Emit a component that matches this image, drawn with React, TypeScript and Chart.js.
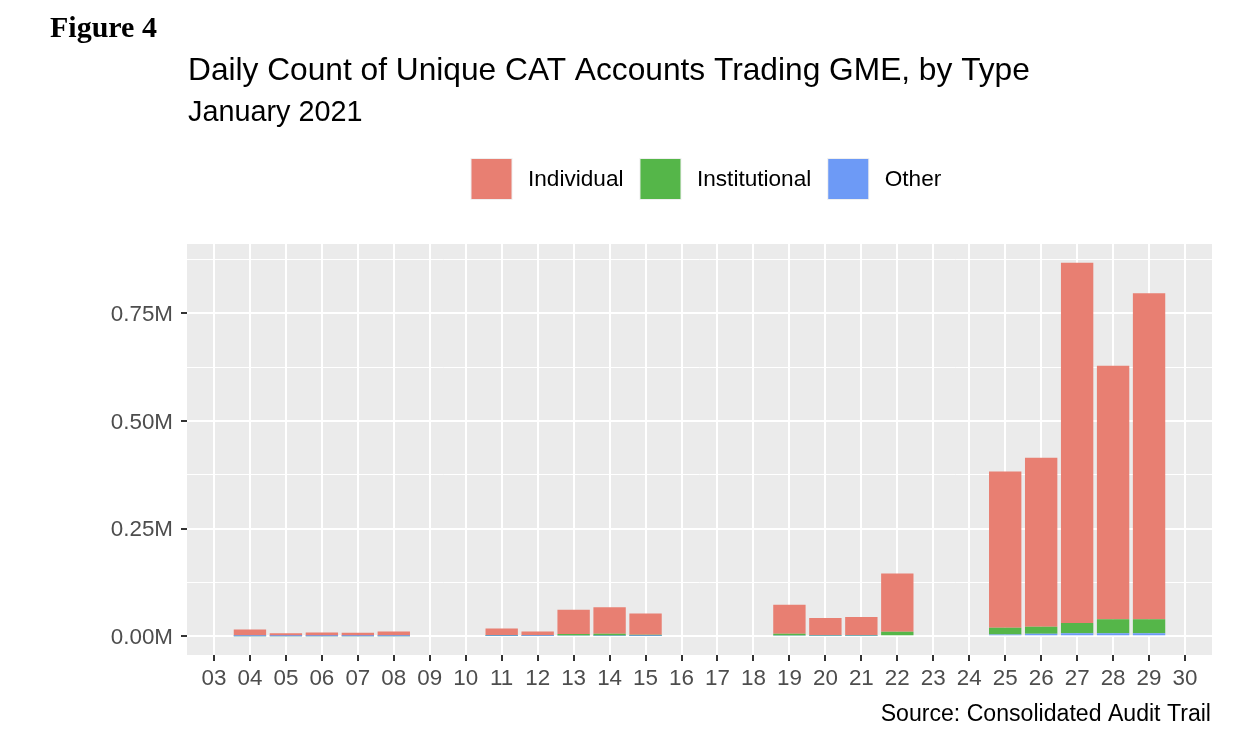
import React, { useEffect, useRef } from 'react';
import { Chart, registerables } from 'chart.js';

Chart.register(...registerables);

// Trading days in January 2021
const days = [4, 5, 6, 7, 8, 11, 12, 13, 14, 15, 19, 20, 21, 22, 25, 26, 27, 28, 29];
// Daily unique CAT accounts by type
const individual = [14300, 6100, 7600, 7500, 9800, 14700, 9300, 56500, 61500, 49300, 67700, 39300, 41800, 135300, 363000, 392200, 837000, 589200, 757500];
const institutional = [1000, 700, 800, 800, 900, 2500, 1200, 3500, 4500, 2500, 4000, 1800, 2000, 8000, 15500, 16500, 24000, 32500, 32500];
const other = [300, 200, 200, 200, 300, 800, 500, 2000, 1500, 1000, 1800, 1200, 1200, 2500, 4500, 6000, 7000, 7000, 7000];

const seriesNames = ['Individual', 'Institutional', 'Other'];
const seriesColors = ['#E87F72', '#55B649', '#6D9AF6'];

const figureLabel = 'Figure 4';
const titleText = 'Daily Count of Unique CAT Accounts Trading GME, by Type';
const subtitleText = 'January 2021';
const captionText = 'Source: Consolidated Audit Trail';

const FONT = '"Liberation Sans", Arial, Helvetica, sans-serif';
const MILLION = 1e6;
const MAJOR_STEP = 0.25; // in millions
const MINOR_STEP = 0.125;

const isMajor = (v: number) => {
  const r = v / MAJOR_STEP;
  return Math.abs(r - Math.round(r)) < 1e-6;
};

const decorPlugin = {
  id: 'decor',
  beforeDraw(chart: any) {
    const { ctx, chartArea: a } = chart;
    ctx.save();
    ctx.fillStyle = '#EBEBEB';
    ctx.fillRect(a.left, a.top, a.right - a.left, a.bottom - a.top);
    ctx.restore();
  },
  afterDraw(chart: any) {
    const { ctx, chartArea: a } = chart;
    ctx.save();
    ctx.fillStyle = '#000000';
    ctx.textBaseline = 'alphabetic';
    ctx.textAlign = 'left';
    ctx.font = 'bold 30px "Liberation Serif", "Times New Roman", serif';
    ctx.fillText(figureLabel, 50, 37);
    ctx.font = `31.7px ${FONT}`;
    ctx.fillText(titleText, a.left + 1, 79.5);
    ctx.font = `28.8px ${FONT}`;
    ctx.fillText(subtitleText, a.left + 1, 120.5);

    // legend
    ctx.font = `22.6px ${FONT}`;
    const key = 42;
    const gapKeyText = 15.5;
    const gapItem = 16;
    let x = 470.5;
    const keyTop = 158;
    seriesNames.forEach((name, i) => {
      const w = ctx.measureText(name).width;
      ctx.fillStyle = '#EFEFEF';
      ctx.fillRect(x, keyTop, key, key);
      ctx.fillStyle = seriesColors[i];
      ctx.fillRect(x + 1, keyTop + 1, key - 2, key - 2);
      ctx.fillStyle = '#000000';
      ctx.textBaseline = 'middle';
      ctx.fillText(name, x + key + gapKeyText, keyTop + key / 2 + 1);
      x += key + gapKeyText + w + gapItem;
    });

    // caption
    ctx.textBaseline = 'alphabetic';
    ctx.textAlign = 'right';
    ctx.font = `23.1px ${FONT}`;
    ctx.fillText(captionText, a.right - 1, 721);
    ctx.restore();
  },
};

export default function App() {
  const canvasRef = useRef<HTMLCanvasElement | null>(null);

  useEffect(() => {
    if (!canvasRef.current) return;
    const mk = (vals: number[]) => days.map((d, i) => ({ x: d, y: vals[i] / MILLION }));
    const chart = new Chart(canvasRef.current, {
      type: 'bar',
      data: {
        datasets: [
          { label: seriesNames[2], data: mk(other), backgroundColor: seriesColors[2] },
          { label: seriesNames[1], data: mk(institutional), backgroundColor: seriesColors[1] },
          { label: seriesNames[0], data: mk(individual), backgroundColor: seriesColors[0] },
        ] as any,
      },
      options: {
        responsive: false,
        animation: false,
        events: [],
        layout: { padding: { left: 0, right: 30, top: 244, bottom: 35 } },
        datasets: {
          bar: { categoryPercentage: 1, barPercentage: 0.9, borderWidth: 0 },
        } as any,
        plugins: {
          legend: { display: false },
          title: { display: false },
          tooltip: { enabled: false },
        },
        scales: {
          x: {
            type: 'linear',
            min: 2.25,
            max: 30.75,
            stacked: true,
            offset: false,
            border: { display: false },
            grid: {
              offset: false,
              color: '#FFFFFF',
              lineWidth: 2,
              drawTicks: true,
              tickColor: '#333333',
              tickLength: 6,
              tickWidth: 2,
            },
            ticks: {
              stepSize: 1,
              includeBounds: false,
              autoSkip: false,
              maxRotation: 0,
              minRotation: 0,
              padding: 4,
              color: '#4D4D4D',
              font: { family: FONT, size: 22.4 },
              callback: (v: any) => String(Math.round(Number(v))).padStart(2, '0'),
            },
            afterFit: (s: any) => {
              s.height = 60;
            },
          },
          y: {
            type: 'linear',
            min: -0.0434,
            max: 0.9114,
            stacked: true,
            border: { display: false },
            grid: {
              color: '#FFFFFF',
              lineWidth: (c: any) => (c.tick && isMajor(c.tick.value) ? 2 : 1),
              drawTicks: true,
              tickColor: (c: any) => (c.tick && isMajor(c.tick.value) ? '#333333' : 'rgba(0,0,0,0)'),
              tickLength: 6,
              tickWidth: 2,
            },
            ticks: {
              stepSize: MINOR_STEP,
              includeBounds: false,
              autoSkip: false,
              padding: 8,
              labelOffset: 1.5,
              color: '#4D4D4D',
              font: { family: FONT, size: 22.4 },
              callback: (v: any) => (isMajor(Number(v)) ? Number(v).toFixed(2) + 'M' : ''),
            },
            afterFit: (s: any) => {
              s.width = 187;
            },
          },
        },
      } as any,
      plugins: [decorPlugin],
    });
    return () => chart.destroy();
  }, []);

  return (
    <div style={{ position: 'fixed', left: 0, top: 0, width: 1242, height: 750, background: '#FFFFFF' }}>
      <canvas ref={canvasRef} width={1242} height={750} style={{ width: 1242, height: 750, display: 'block' }} />
    </div>
  );
}
